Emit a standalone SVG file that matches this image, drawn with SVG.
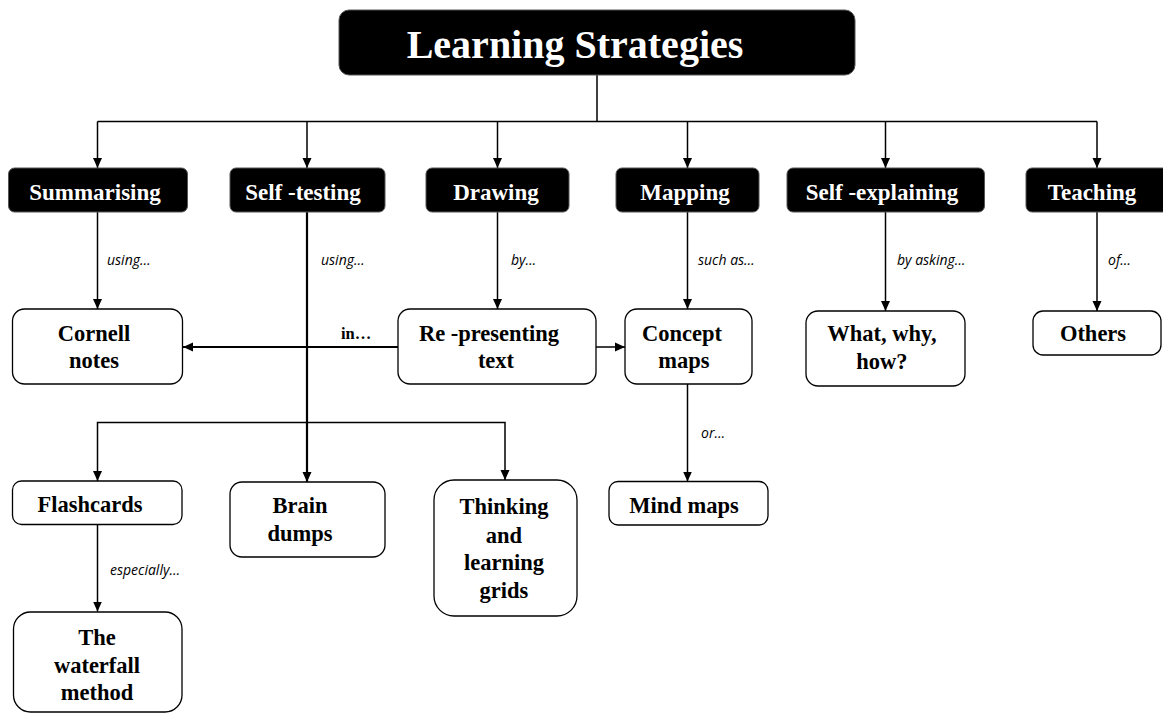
<svg xmlns="http://www.w3.org/2000/svg" width="1163" height="715" viewBox="0 0 1163 715">
  <style>
    .hdr { fill: #000; stroke: #555; stroke-width: 1; }
    .node { fill: #fff; stroke: #000; stroke-width: 1.3; }
    .htxt { font-family: "Liberation Serif", "Times New Roman", serif; font-weight: bold; font-size: 23px; fill: #fff; text-anchor: middle; }
    .ntxt { font-family: "Liberation Serif", "Times New Roman", serif; font-weight: bold; font-size: 22.5px; fill: #000; text-anchor: middle; }
    .lbl { font-family: "Open Sans", "Liberation Sans", sans-serif; font-style: italic; font-size: 14px; fill: #000; }
    .edge { fill: none; stroke: #000; stroke-width: 1.5; }
    .thick { fill: none; stroke: #000; stroke-width: 2.2; }
  </style>
  <defs>
    <marker id="arrow" viewBox="0 0 10 10" refX="10" refY="5" markerWidth="10" markerHeight="10" markerUnits="userSpaceOnUse" orient="auto">
      <path d="M0,0.5 L10,5 L0,9.5 z" fill="#000"/>
    </marker>
  </defs>

  <rect width="1163" height="715" fill="#fff"/>

  <!-- connectors -->
  <g id="connectors">
    <path class="edge" d="M597,75 V121.5"/>
    <path class="edge" d="M97.5,121.5 H1097"/>
    <path class="edge" d="M97.5,121.5 V168" marker-end="url(#arrow)"/>
    <path class="edge" d="M307,121.5 V168" marker-end="url(#arrow)"/>
    <path class="edge" d="M497.5,121.5 V168" marker-end="url(#arrow)"/>
    <path class="edge" d="M687.5,121.5 V168" marker-end="url(#arrow)"/>
    <path class="edge" d="M885.5,121.5 V168" marker-end="url(#arrow)"/>
    <path class="edge" d="M1097,121.5 V168" marker-end="url(#arrow)"/>

    <path class="edge" d="M97.5,212 V309" marker-end="url(#arrow)"/>
    <path class="thick" d="M307,212 V482" marker-end="url(#arrow)"/>
    <path class="edge" d="M497.5,212 V309" marker-end="url(#arrow)"/>
    <path class="edge" d="M687.5,212 V309" marker-end="url(#arrow)"/>
    <path class="edge" d="M885.5,212 V311" marker-end="url(#arrow)"/>
    <path class="edge" d="M1097,212 V311" marker-end="url(#arrow)"/>

    <path class="thick" d="M398,347 H183" marker-end="url(#arrow)"/>
    <path class="edge" d="M596,347 H625" marker-end="url(#arrow)"/>

    <path class="edge" d="M307,422.5 H97.5 V481" marker-end="url(#arrow)"/>
    <path class="edge" d="M307,422.5 H505 V480" marker-end="url(#arrow)"/>

    <path class="edge" d="M687.5,384 V481.5" marker-end="url(#arrow)"/>
    <path class="edge" d="M97.5,524.5 V611.5" marker-end="url(#arrow)"/>

    <text class="lbl" x="107" y="265">using…</text>
    <text class="lbl" x="321" y="265">using…</text>
    <text class="lbl" x="511" y="265">by…</text>
    <text class="lbl" x="698" y="265">such as…</text>
    <text class="lbl" x="897" y="265">by asking…</text>
    <text class="lbl" x="1108" y="265">of…</text>
    <text class="lbl" x="701" y="438">or…</text>
    <text class="lbl" x="110" y="575">especially…</text>
    <text x="341" y="339" font-family="Liberation Serif, Times New Roman, serif" font-weight="bold" font-size="16.5px">in…</text>
  </g>

  <!-- root -->
  <g id="learning-strategies">
    <rect class="hdr" x="339" y="10" width="516" height="65" rx="10"/>
    <text class="htxt" x="575" y="58" style="font-size:40px">Learning Strategies</text>
  </g>

  <!-- strategy headers -->
  <g id="summarising">
    <rect class="hdr" x="8.5" y="168" width="179" height="44" rx="6"/>
    <text class="htxt" x="95" y="199.5">Summarising</text>
  </g>
  <g id="self-testing">
    <rect class="hdr" x="230" y="168" width="155" height="44" rx="6"/>
    <text class="htxt" x="303" y="199.5">Self -testing</text>
  </g>
  <g id="drawing">
    <rect class="hdr" x="426" y="168" width="143" height="44" rx="6"/>
    <text class="htxt" x="496" y="199.5">Drawing</text>
  </g>
  <g id="mapping">
    <rect class="hdr" x="616" y="168" width="143" height="44" rx="6"/>
    <text class="htxt" x="685" y="199.5">Mapping</text>
  </g>
  <g id="self-explaining">
    <rect class="hdr" x="787" y="168" width="197.5" height="44" rx="6"/>
    <text class="htxt" x="882" y="199.5">Self -explaining</text>
  </g>
  <g id="teaching">
    <rect class="hdr" x="1026" y="168" width="150" height="44" rx="6"/>
    <text class="htxt" x="1092" y="199.5">Teaching</text>
  </g>

  <!-- second row -->
  <g id="cornell-notes">
    <rect class="node" x="12.5" y="309" width="170" height="75" rx="12"/>
    <text class="ntxt" x="94" y="341">Cornell</text>
    <text class="ntxt" x="94" y="368">notes</text>
  </g>
  <g id="re-presenting-text">
    <rect class="node" x="398" y="309" width="198" height="75" rx="12"/>
    <text class="ntxt" x="489" y="341">Re -presenting</text>
    <text class="ntxt" x="496" y="368">text</text>
  </g>
  <g id="concept-maps">
    <rect class="node" x="625" y="309" width="127" height="75" rx="12"/>
    <text class="ntxt" x="682" y="341">Concept</text>
    <text class="ntxt" x="684" y="368">maps</text>
  </g>
  <g id="what-why-how">
    <rect class="node" x="806" y="311" width="159" height="75" rx="12"/>
    <text class="ntxt" x="882" y="341">What, why,</text>
    <text class="ntxt" x="882" y="369">how?</text>
  </g>
  <g id="others">
    <rect class="node" x="1033" y="311" width="128" height="44" rx="10"/>
    <text class="ntxt" x="1093" y="341">Others</text>
  </g>

  <!-- third row -->
  <g id="flashcards">
    <rect class="node" x="12.5" y="481" width="169.5" height="43.5" rx="9"/>
    <text class="ntxt" x="90" y="511.5">Flashcards</text>
  </g>
  <g id="brain-dumps">
    <rect class="node" x="230" y="482" width="155" height="75" rx="12"/>
    <text class="ntxt" x="300" y="513">Brain</text>
    <text class="ntxt" x="300" y="541">dumps</text>
  </g>
  <g id="thinking-learning-grids">
    <rect class="node" x="434" y="480" width="143" height="136" rx="20"/>
    <text class="ntxt" x="504" y="513.5">Thinking</text>
    <text class="ntxt" x="504" y="542.5">and</text>
    <text class="ntxt" x="504" y="570">learning</text>
    <text class="ntxt" x="504" y="598">grids</text>
  </g>
  <g id="mind-maps">
    <rect class="node" x="609" y="481.5" width="159" height="43.5" rx="9"/>
    <text class="ntxt" x="684" y="512.5">Mind maps</text>
  </g>
  <g id="waterfall-method">
    <rect class="node" x="13.5" y="612" width="168.5" height="100" rx="17"/>
    <text class="ntxt" x="97" y="645">The</text>
    <text class="ntxt" x="97" y="673">waterfall</text>
    <text class="ntxt" x="97" y="700">method</text>
  </g>
</svg>
